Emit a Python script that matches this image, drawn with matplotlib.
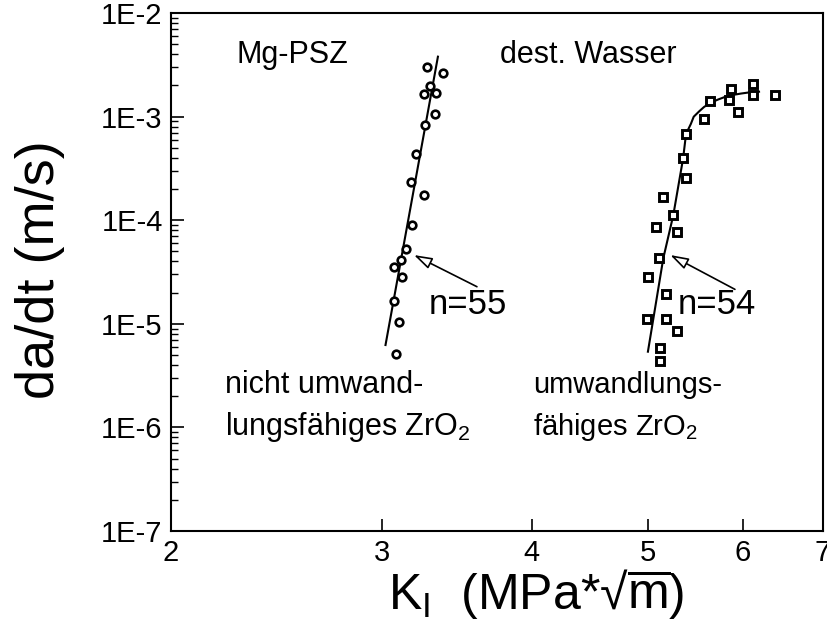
import matplotlib
matplotlib.use("Agg")
import matplotlib.pyplot as plt
from matplotlib.ticker import FixedLocator, FixedFormatter, LogLocator, NullLocator, NullFormatter
from matplotlib.patches import FancyArrowPatch

plt.rcParams['font.family'] = ['Liberation Sans', 'DejaVu Sans']
plt.rcParams['mathtext.fontset'] = 'custom'
plt.rcParams['mathtext.rm'] = 'Liberation Sans'
plt.rcParams['mathtext.it'] = 'Liberation Sans'
plt.rcParams['mathtext.sf'] = 'Liberation Sans'

# non-transforming ZrO2 (circles)
k_circ = [3.27, 3.37, 3.29, 3.33, 3.25, 3.32, 3.26, 3.20, 3.17, 3.25, 3.18, 3.14,
          3.11, 3.07, 3.12, 3.07, 3.10, 3.08]
v_circ = [3.03e-3, 2.62e-3, 1.97e-3, 1.70e-3, 1.65e-3, 1.06e-3, 8.24e-4, 4.36e-4,
          2.32e-4, 1.75e-4, 8.93e-5, 5.24e-5, 4.13e-5, 3.56e-5, 2.81e-5, 1.65e-5,
          1.03e-5, 5.08e-6]
# fit line n=55
k_fit1 = [3.02, 3.34]
v_fit1 = [6.24e-6, 3.79e-3]

# transforming ZrO2 (squares)
k_sq = [6.12, 5.86, 6.12, 6.38, 5.63, 5.84, 5.95, 5.57, 5.38, 5.35, 5.38, 5.15,
        5.25, 5.08, 5.29, 5.11, 5.00, 5.18, 4.99, 5.18, 5.29, 5.12, 5.12]
v_sq = [2.06e-3, 1.86e-3, 1.62e-3, 1.63e-3, 1.41e-3, 1.44e-3, 1.10e-3, 9.54e-4,
        6.87e-4, 4.03e-4, 2.57e-4, 1.66e-4, 1.12e-4, 8.54e-5, 7.64e-5, 4.29e-5,
        2.81e-5, 1.93e-5, 1.12e-5, 1.12e-5, 8.58e-6, 5.8e-6, 4.4e-6]
# fit curve n=54
k_fit2 = [5.00, 5.15, 5.25, 5.35, 5.38, 5.43, 5.46, 5.52, 5.57, 5.64, 5.72, 5.79,
          5.87, 5.98, 6.09, 6.19]
v_fit2 = [5.38e-6, 4.29e-5, 1.12e-4, 3.96e-4, 6.8e-4, 8.5e-4, 9.98e-4, 1.13e-3,
          1.24e-3, 1.36e-3, 1.46e-3, 1.54e-3, 1.61e-3, 1.67e-3, 1.72e-3, 1.74e-3]

x_ticks = [2, 3, 4, 5, 6, 7]
x_ticklabels = ['2', '3', '4', '5', '6', '7']
y_ticks = [1e-7, 1e-6, 1e-5, 1e-4, 1e-3, 1e-2]
y_ticklabels = ['1E-7', '1E-6', '1E-5', '1E-4', '1E-3', '1E-2']

fig = plt.figure(figsize=(8.27, 6.23), dpi=100)
ax = fig.add_axes([0.2068, 0.1477, 0.7884, 0.8314])
ax.set_xscale('log')
ax.set_yscale('log')
ax.set_xlim(2, 7)
ax.set_ylim(1e-7, 1e-2)

ax.plot(k_fit1, v_fit1, color='black', lw=1.5)
ax.plot(k_fit2, v_fit2, color='black', lw=1.5)
ax.plot(k_circ, v_circ, linestyle='none', marker='o', ms=5.5, mfc='white', mec='black', mew=1.9)
ax.plot(k_sq, v_sq, linestyle='none', marker='s', ms=6, mfc='white', mec='black', mew=2.1)

# arrows
for tail, tip in [((3.60, 2.28e-5), (3.19, 4.61e-5)), ((5.91, 2.15e-5), (5.22, 4.61e-5))]:
    arr = FancyArrowPatch(tail, tip, arrowstyle='-|>,head_length=11,head_width=3.5',
                          mutation_scale=1, lw=1.2, color='black', fc='white',
                          shrinkA=0, shrinkB=0)
    ax.add_patch(arr)

ax.text(3.28, 1.55e-5, 'n=55', fontsize=25, va='center', ha='left')
ax.text(5.29, 1.55e-5, 'n=54', fontsize=25, va='center', ha='left')
ax.text(2.27, 3.9e-3, 'Mg-PSZ', fontsize=22, va='center', ha='left')
ax.text(3.76, 3.9e-3, 'dest. Wasser', fontsize=22, va='center', ha='left')
ax.text(2.22, 2.55e-6, 'nicht umwand-', fontsize=22, va='center', ha='left')
ax.text(2.22, 1.0e-6, 'lungsfähiges ZrO$_2$', fontsize=22, va='center', ha='left')
ax.text(4.01, 2.55e-6, 'umwandlungs-', fontsize=21, va='center', ha='left')
ax.text(4.01, 1.0e-6, 'fähiges ZrO$_2$', fontsize=21, va='center', ha='left')

ax.xaxis.set_major_locator(FixedLocator(x_ticks))
ax.xaxis.set_major_formatter(FixedFormatter(x_ticklabels))
ax.xaxis.set_minor_locator(NullLocator())
ax.xaxis.set_minor_formatter(NullFormatter())
ax.yaxis.set_major_locator(FixedLocator(y_ticks))
ax.yaxis.set_major_formatter(FixedFormatter(y_ticklabels))
ax.yaxis.set_minor_locator(LogLocator(base=10, subs=range(2, 10), numticks=20))
ax.yaxis.set_minor_formatter(NullFormatter())

ax.tick_params(axis='both', which='major', direction='in', length=9, width=1.2, labelsize=21, pad=6)
ax.tick_params(axis='y', which='minor', direction='in', length=5, width=1.0)
for s in ax.spines.values():
    s.set_linewidth(1.5)

fig.text(0.648, 0.022, r'K$_\mathregular{I}$  (MPa*√$\overline{\mathregular{m}}$)',
         fontsize=36, ha='center', va='baseline')
fig.text(0.048, 0.567, 'da/dt (m/s)', fontsize=39, rotation=90, ha='center', va='center')

fig.savefig('out.png', dpi=100)
